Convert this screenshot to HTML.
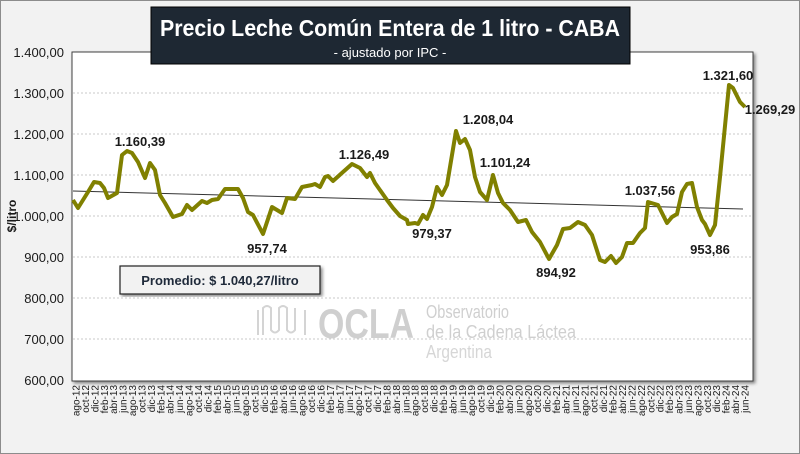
<!DOCTYPE html>
<html><head><meta charset="utf-8"><style>
html,body{margin:0;padding:0;background:#f2f2f2;}
svg{display:block;font-family:"Liberation Sans",sans-serif;}
</style></head><body>
<svg width="800" height="454" viewBox="0 0 800 454" xmlns="http://www.w3.org/2000/svg">
<defs>
<filter id="sh" x="-5%" y="-5%" width="115%" height="115%"><feDropShadow dx="2" dy="2" stdDeviation="1.5" flood-color="#000" flood-opacity="0.45"/></filter>
</defs>
<rect x="0.5" y="0.5" width="799" height="453" fill="#f2f2f2" stroke="#8c8c8c"/>
<rect x="72" y="52" width="681" height="329" fill="#fff" stroke="#404040" stroke-width="1" filter="url(#sh)"/>
<g stroke="#c8c8c8" stroke-dasharray="2,2" stroke-width="1">
<line x1="73" x2="752" y1="93" y2="93"/><line x1="73" x2="752" y1="134" y2="134"/><line x1="73" x2="752" y1="175" y2="175"/><line x1="73" x2="752" y1="216" y2="216"/><line x1="73" x2="752" y1="257" y2="257"/><line x1="73" x2="752" y1="298" y2="298"/><line x1="73" x2="752" y1="339" y2="339"/>
</g>
<g font-size="13" fill="#1a1a1a" text-anchor="end">
<text x="64" y="57">1.400,00</text><text x="64" y="98">1.300,00</text><text x="64" y="139">1.200,00</text><text x="64" y="180">1.100,00</text><text x="64" y="221">1.000,00</text><text x="64" y="262">900,00</text><text x="64" y="303">800,00</text><text x="64" y="344">700,00</text><text x="64" y="385">600,00</text>
</g>
<text transform="translate(16,216) rotate(-90)" font-size="12" font-weight="bold" text-anchor="middle" fill="#1a1a1a">$/litro</text>
<g fill="none" stroke="#d4d4d4" stroke-width="2"><path d="M258 335 V310 M263 335 V308 q4 -4 8 0 V330 q4 5 8 0 V308 q4 -4 8 0 V330 q4 5 8 0 V308 M305 335 V310"/></g>
<text x="318" y="338" font-size="42" font-weight="bold" fill="#cfcfcf" textLength="96" lengthAdjust="spacingAndGlyphs">OCLA</text>
<text x="426" y="318" font-size="18" fill="#cfcfcf" textLength="83" lengthAdjust="spacingAndGlyphs">Observatorio</text>
<text x="426" y="338" font-size="18" fill="#cfcfcf" textLength="150" lengthAdjust="spacingAndGlyphs">de la Cadena Láctea</text>
<text x="426" y="358" font-size="18" fill="#d6d6d6" textLength="66" lengthAdjust="spacingAndGlyphs">Argentina</text>
<line x1="73" y1="191" x2="743" y2="209" stroke="#333" stroke-width="1"/>
<polyline fill="none" stroke="#808000" stroke-width="4" stroke-linejoin="round" points="73,200 78,208 88,192 94,182 100,183 104,188 108,198 117,193 122,155 127,151 132,153 138,162 145,178 150,163 155,170 160,195 165,203 173,217 182,214 187,205 192,210 202,201 207,203 212,200 218,199 225,189 238,189 243,198 248,212 253,215 263,234 272,207 282,213 287,198 295,199 302,187 312,185 315,184 320,187 325,177 328,176 333,181 343,172 352,164 360,168 367,177 370,173 375,183 387,200 393,208 400,216 407,220 408,224 415,223 418,224 423,215 427,219 432,207 437,187 442,195 447,185 456,131 460,143 465,139 470,150 475,177 480,192 487,200 493,175 498,193 503,203 510,210 518,222 526,220 532,232 540,242 549,259 557,245 563,229 570,228 578,222 585,225 592,235 600,260 605,262 611,256 616,263 622,257 627,243 633,243 640,233 645,228 648,202 658,205 667,223 672,217 677,214 682,192 687,184 692,183 697,207 702,220 705,224 710,235 715,225 720,177 729,85 733,88 740,102 745,107"/>
<g font-size="13" font-weight="bold" fill="#1a1a1a" text-anchor="middle">
<text x="140" y="146">1.160,39</text>
<text x="364" y="159">1.126,49</text>
<text x="267" y="253">957,74</text>
<text x="432" y="238">979,37</text>
<text x="488" y="124">1.208,04</text>
<text x="505" y="167">1.101,24</text>
<text x="556" y="277">894,92</text>
<text x="650" y="195">1.037,56</text>
<text x="710" y="254">953,86</text>
<text x="728" y="80">1.321,60</text>
<text x="770" y="114">1.269,29</text>
</g>
<rect x="120" y="266" width="200" height="28" fill="#f2f2f2" stroke="#222" stroke-width="1.2" filter="url(#sh)"/>
<text x="220" y="285" font-size="13" font-weight="bold" text-anchor="middle" fill="#1f2a3a">Promedio: $ 1.040,27/litro</text>
<rect x="151" y="7" width="479" height="57" fill="#1e2833" stroke="#000"/>
<text x="390" y="36" font-size="23" font-weight="bold" fill="#fff" text-anchor="middle" textLength="460" lengthAdjust="spacingAndGlyphs">Precio Leche Común Entera de 1 litro - CABA</text>
<text x="390" y="57" font-size="13" fill="#fff" text-anchor="middle">- ajustado por IPC -</text>
<g font-size="10" fill="#1a1a1a" id="xl"></g>
</svg>
<script>
var m=["ene","feb","mar","abr","may","jun","jul","ago","sep","oct","nov","dic"];
var g=document.getElementById("xl"),s="";
for(var i=0;i<143;i+=2){var mi=(7+i)%12,y=12+Math.floor((7+i)/12);var x=76+i*(669/142)+3.5;
s+='<text transform="translate('+x.toFixed(1)+',385) rotate(-90)" text-anchor="end">'+m[mi]+'-'+y+'</text>';}
g.innerHTML=s;
</script>
</body></html>
